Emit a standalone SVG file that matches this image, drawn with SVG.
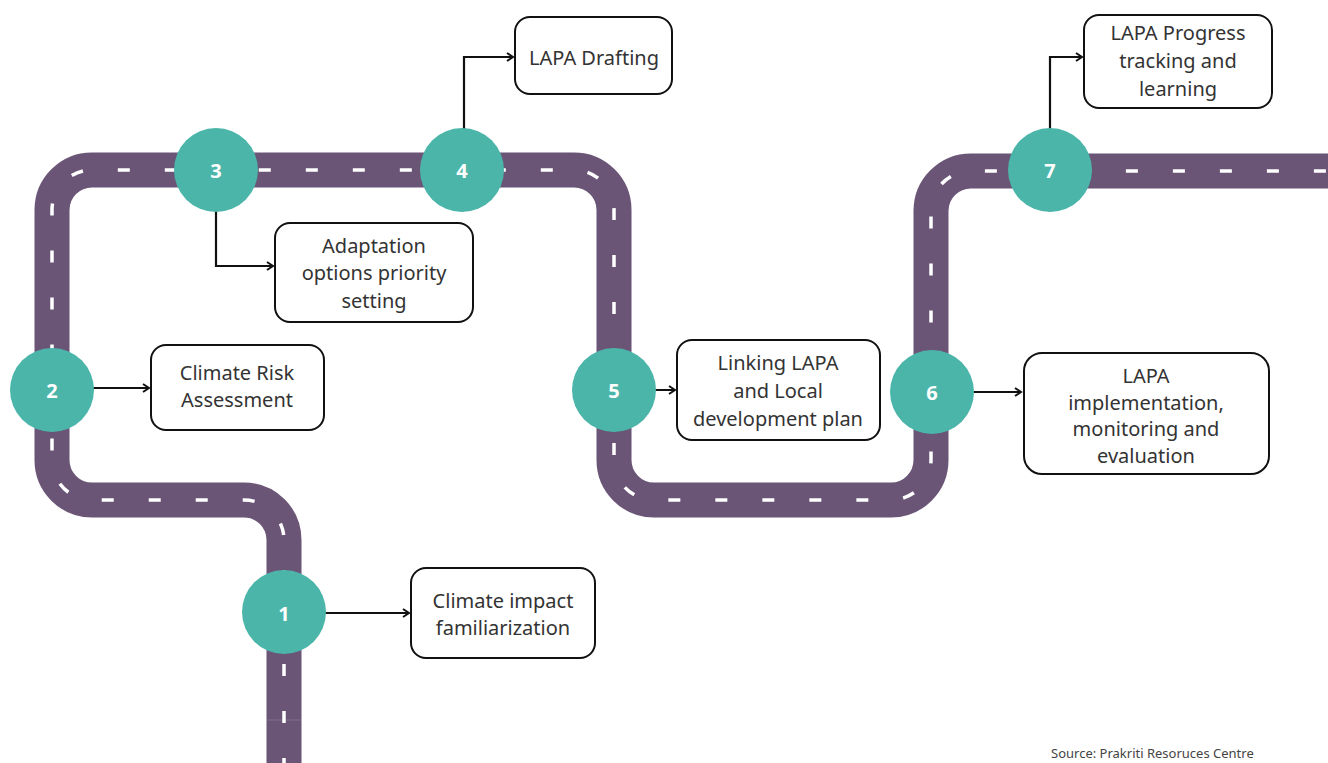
<svg xmlns="http://www.w3.org/2000/svg" width="1328" height="763" viewBox="0 0 1328 763">
<style>
.road{fill:none;stroke:#6a5577;stroke-width:35;stroke-linejoin:round}
.lane{fill:none;stroke:#ffffff;stroke-width:3.5;stroke-dasharray:12 35}
.stop{fill:#4cb5aa}
.num{font-family:"Open Sans","Noto Sans",sans-serif;font-weight:700;font-size:20px;fill:#ffffff;text-anchor:middle;dominant-baseline:central}
.box{fill:#ffffff;stroke:#111111;stroke-width:2}
.lbl{font-family:"Noto Sans","Open Sans",sans-serif;font-size:20px;fill:#333333;text-anchor:middle;dominant-baseline:central}
.link{fill:none;stroke:#111111;stroke-width:2.2}
.src{font-family:"Noto Sans","Open Sans",sans-serif;font-size:13px;fill:#444444}
</style>
<defs>
<marker id="arr" markerWidth="10" markerHeight="10" refX="8" refY="5" orient="auto" markerUnits="userSpaceOnUse">
<path d="M2,1 L8,5 L2,9" fill="none" stroke="#111111" stroke-width="2"/>
</marker>
</defs>
<g id="road">
<path class="road" d="M284,770 L284,540 A40,40 0 0 0 244,500 L92,500 A40,40 0 0 1 52,460 L52,210 A40,40 0 0 1 92,170 L574,170 A40,40 0 0 1 614,210 L614,460 A40,40 0 0 0 654,500 L891,500 A40,40 0 0 0 931,460 L931,211 A40,40 0 0 1 971,171 L1340,171"/>
<line x1="267" y1="720" x2="301" y2="720" stroke="#7e6c8a" stroke-width="1"/>
<path class="lane" d="M284,770 L284,540 A40,40 0 0 0 244,500 L92,500 A40,40 0 0 1 52,460 L52,210 A40,40 0 0 1 92,170 L574,170 A40,40 0 0 1 614,210 L614,460 A40,40 0 0 0 654,500 L891,500 A40,40 0 0 0 931,460 L931,211 A40,40 0 0 1 971,171 L1340,171"/>
</g>
<g id="connectors">
<path class="link" d="M284,613 L409,613" marker-end="url(#arr)"/>
<path class="link" d="M52,388 L149,388" marker-end="url(#arr)"/>
<path class="link" d="M216,170 L216,266 L273,266" marker-end="url(#arr)"/>
<path class="link" d="M464,170 L464,57 L513,57" marker-end="url(#arr)"/>
<path class="link" d="M614,390 L675,390" marker-end="url(#arr)"/>
<path class="link" d="M932,392 L1021,392" marker-end="url(#arr)"/>
<path class="link" d="M1050,170 L1050,57 L1082,57" marker-end="url(#arr)"/>
</g>
<g id="stop1"><circle class="stop" cx="284" cy="612" r="42"/><text class="num" x="284" y="613">1</text></g>
<g id="stop2"><circle class="stop" cx="52" cy="390" r="42"/><text class="num" x="52" y="390">2</text></g>
<g id="stop3"><circle class="stop" cx="216" cy="170" r="42"/><text class="num" x="216" y="170">3</text></g>
<g id="stop4"><circle class="stop" cx="462" cy="170" r="42"/><text class="num" x="462" y="170">4</text></g>
<g id="stop5"><circle class="stop" cx="614" cy="390" r="42"/><text class="num" x="614" y="390">5</text></g>
<g id="stop6"><circle class="stop" cx="932" cy="392" r="42"/><text class="num" x="932" y="392">6</text></g>
<g id="stop7"><circle class="stop" cx="1050" cy="170" r="42"/><text class="num" x="1050" y="170">7</text></g>
<g id="box1"><rect class="box" x="411" y="568" width="184" height="90" rx="15"/>
<text class="lbl" x="503" y="600">Climate impact</text><text class="lbl" x="503" y="627">familiarization</text></g>
<g id="box2"><rect class="box" x="151" y="345" width="173" height="85" rx="15"/>
<text class="lbl" x="237" y="372">Climate Risk</text><text class="lbl" x="237" y="399">Assessment</text></g>
<g id="box3"><rect class="box" x="275" y="223" width="198" height="99" rx="15"/>
<text class="lbl" x="374" y="245">Adaptation</text><text class="lbl" x="374" y="272">options priority</text><text class="lbl" x="374" y="300">setting</text></g>
<g id="box4"><rect class="box" x="515" y="17" width="157" height="77" rx="15"/>
<text class="lbl" x="594" y="57">LAPA Drafting</text></g>
<g id="box5"><rect class="box" x="677" y="340" width="203" height="100" rx="15"/>
<text class="lbl" x="778" y="362">Linking LAPA</text><text class="lbl" x="778" y="390">and Local</text><text class="lbl" x="778" y="418">development plan</text></g>
<g id="box6"><rect class="box" x="1024" y="353" width="245" height="121" rx="18"/>
<text class="lbl" x="1146" y="375">LAPA</text><text class="lbl" x="1146" y="402">implementation,</text><text class="lbl" x="1146" y="428">monitoring and</text><text class="lbl" x="1146" y="455">evaluation</text></g>
<g id="box7"><rect class="box" x="1084" y="15" width="188" height="93" rx="15"/>
<text class="lbl" x="1178" y="32">LAPA Progress</text><text class="lbl" x="1178" y="60">tracking and</text><text class="lbl" x="1178" y="88">learning</text></g>
<text class="src" x="1051" y="758">Source: Prakriti Resoruces Centre</text>
</svg>
